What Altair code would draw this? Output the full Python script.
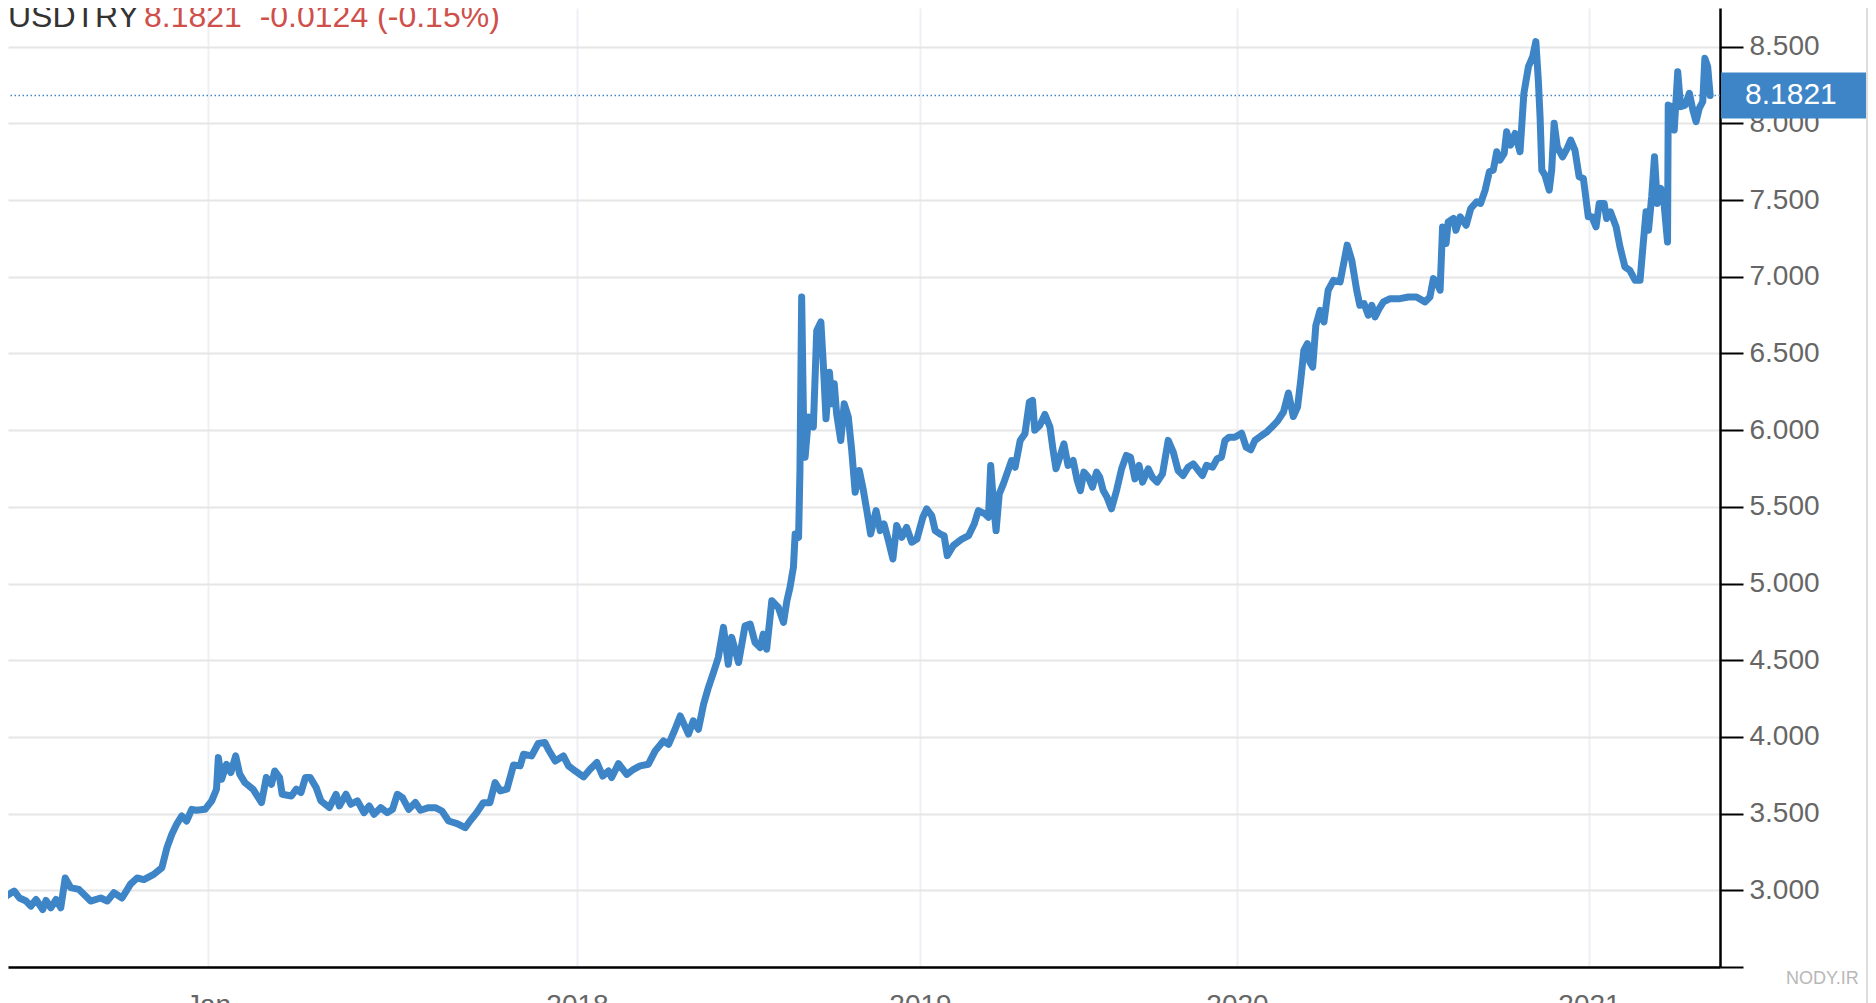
import altair as alt
import pandas as pd

# ---- data (decimal year, USDTRY close) ----
T = [2016.439, 2016.453, 2016.475, 2016.489, 2016.507, 2016.520, 2016.534, 2016.552, 2016.561, 2016.574,
     2016.588, 2016.601, 2016.613, 2016.628, 2016.650, 2016.682, 2016.709, 2016.727, 2016.745, 2016.767,
     2016.790, 2016.808, 2016.826, 2016.853, 2016.875, 2016.889, 2016.902, 2016.916, 2016.929, 2016.942,
     2016.956, 2016.969, 2016.992, 2017.010, 2017.023, 2017.028, 2017.037, 2017.050, 2017.062, 2017.075,
     2017.086, 2017.100, 2017.122, 2017.145, 2017.158, 2017.172, 2017.181, 2017.194, 2017.201, 2017.226,
     2017.239, 2017.252, 2017.264, 2017.277, 2017.293, 2017.306, 2017.329, 2017.347, 2017.356, 2017.374,
     2017.387, 2017.405, 2017.423, 2017.437, 2017.450, 2017.468, 2017.486, 2017.500, 2017.513, 2017.527,
     2017.544, 2017.562, 2017.576, 2017.598, 2017.616, 2017.634, 2017.652, 2017.675,
     2017.697, 2017.710, 2017.728, 2017.746, 2017.764, 2017.778, 2017.792, 2017.810, 2017.828, 2017.846,
     2017.855, 2017.877, 2017.895, 2017.913, 2017.922, 2017.941, 2017.963, 2017.977, 2017.995,
     2018.019, 2018.038, 2018.058, 2018.075, 2018.092, 2018.101, 2018.121, 2018.145, 2018.165, 2018.184,
     2018.208, 2018.228, 2018.252, 2018.267, 2018.286, 2018.301, 2018.325, 2018.339, 2018.354, 2018.369,
     2018.383, 2018.398, 2018.412, 2018.427, 2018.441, 2018.451, 2018.471, 2018.490, 2018.505, 2018.519,
     2018.534, 2018.543, 2018.553, 2018.568, 2018.587, 2018.602, 2018.612,
     2018.621, 2018.631, 2018.636, 2018.646, 2018.650, 2018.655, 2018.660, 2018.665, 2018.675, 2018.689,
     2018.699, 2018.711, 2018.718, 2018.726, 2018.736, 2018.743, 2018.750, 2018.757, 2018.769, 2018.779,
     2018.791, 2018.801, 2018.811, 2018.823, 2018.835, 2018.845, 2018.856, 2018.872, 2018.884, 2018.895,
     2018.908, 2018.921, 2018.932, 2018.947, 2018.961, 2018.976, 2018.991,
     2019.009, 2019.021, 2019.037, 2019.048, 2019.063, 2019.076, 2019.086, 2019.105, 2019.132, 2019.153,
     2019.171, 2019.184, 2019.205, 2019.216, 2019.223, 2019.232, 2019.240, 2019.250, 2019.263, 2019.276,
     2019.289, 2019.300, 2019.316, 2019.331, 2019.345,
     2019.355, 2019.362, 2019.378, 2019.394, 2019.410, 2019.420, 2019.429, 2019.441, 2019.454, 2019.467,
     2019.483, 2019.496, 2019.506, 2019.517, 2019.531, 2019.544, 2019.557, 2019.567, 2019.578, 2019.590,
     2019.604, 2019.620, 2019.636, 2019.651, 2019.664, 2019.678, 2019.691, 2019.702, 2019.720, 2019.733,
     2019.748, 2019.765, 2019.783, 2019.799, 2019.814, 2019.830, 2019.846, 2019.862, 2019.878, 2019.891,
     2019.904, 2019.923, 2019.937, 2019.951, 2019.962, 2019.975, 2019.993,
     2020.013, 2020.026, 2020.039, 2020.051, 2020.070, 2020.084, 2020.099, 2020.115, 2020.132, 2020.146,
     2020.160, 2020.172, 2020.181, 2020.190, 2020.200, 2020.207, 2020.215, 2020.224, 2020.236, 2020.247,
     2020.259, 2020.274, 2020.293,
     2020.313, 2020.326, 2020.340, 2020.349, 2020.361, 2020.373, 2020.383, 2020.392, 2020.404, 2020.416,
     2020.435, 2020.463, 2020.487, 2020.510, 2020.534, 2020.548, 2020.558, 2020.569, 2020.577, 2020.584,
     2020.594, 2020.600, 2020.615, 2020.622, 2020.634, 2020.651, 2020.664, 2020.681, 2020.692, 2020.705,
     2020.717, 2020.728, 2020.738, 2020.747, 2020.759, 2020.766, 2020.777, 2020.790, 2020.804, 2020.815,
     2020.828, 2020.840, 2020.849, 2020.856, 2020.861, 2020.866, 2020.875, 2020.887, 2020.894, 2020.901,
     2020.910, 2020.925, 2020.938, 2020.948, 2020.960, 2020.972, 2020.984, 2020.998,
     2021.008, 2021.020, 2021.029, 2021.043, 2021.050, 2021.061, 2021.077, 2021.088, 2021.102, 2021.116,
     2021.131, 2021.145, 2021.154, 2021.162, 2021.169, 2021.178, 2021.186, 2021.194, 2021.204, 2021.213,
     2021.223, 2021.225, 2021.235, 2021.242, 2021.252, 2021.260, 2021.273, 2021.285, 2021.295, 2021.304,
     2021.313, 2021.323, 2021.329, 2021.337, 2021.344]

V = [2.910, 2.963, 2.995, 2.950, 2.930, 2.897, 2.940, 2.875, 2.934, 2.886,
     2.940, 2.886, 3.080, 3.017, 3.006, 2.930, 2.950, 2.930, 2.984, 2.950,
     3.040, 3.080, 3.070, 3.104, 3.147, 3.280, 3.365, 3.435, 3.485, 3.452,
     3.528, 3.522, 3.528, 3.583, 3.659, 3.865, 3.724, 3.822, 3.768, 3.876,
     3.757, 3.702, 3.659, 3.572, 3.735, 3.691, 3.778, 3.735, 3.626, 3.615,
     3.659, 3.637, 3.735, 3.735, 3.670, 3.583, 3.539, 3.626, 3.550, 3.626,
     3.561, 3.583, 3.506, 3.550, 3.496, 3.539, 3.506, 3.528, 3.626, 3.604,
     3.528, 3.572, 3.522, 3.539, 3.539, 3.517, 3.452, 3.435,
     3.408, 3.452, 3.506, 3.571, 3.571, 3.702, 3.648, 3.659, 3.817, 3.811,
     3.887, 3.876, 3.957, 3.963, 3.920, 3.843, 3.876, 3.811, 3.778,
     3.739, 3.789, 3.833, 3.745, 3.778, 3.735, 3.826, 3.756, 3.789, 3.811,
     3.822, 3.909, 3.974, 3.952, 4.050, 4.137, 4.018, 4.105, 4.050, 4.213,
     4.322, 4.420, 4.518, 4.714, 4.474, 4.649, 4.485, 4.725, 4.736, 4.616,
     4.583, 4.670, 4.572, 4.888, 4.844, 4.746, 4.888,
     4.975, 5.106, 5.323, 5.301, 5.737, 6.868, 6.128, 5.824, 6.085, 6.020,
     6.650, 6.705, 6.433, 6.074, 6.378, 6.172, 6.302, 6.106, 5.932, 6.172,
     6.085, 5.867, 5.595, 5.737, 5.606, 5.475, 5.323, 5.475, 5.345, 5.388,
     5.280, 5.160, 5.378, 5.301, 5.366, 5.269, 5.290,
     5.432, 5.486, 5.443, 5.345, 5.323, 5.312, 5.182, 5.247, 5.290, 5.312,
     5.388, 5.475, 5.454, 5.432, 5.769, 5.519, 5.345, 5.584, 5.650, 5.726,
     5.802, 5.758, 5.932, 5.976, 6.183,
     6.194, 6.000, 6.031, 6.102, 6.020, 5.867, 5.748, 5.824, 5.911, 5.770,
     5.802, 5.672, 5.606, 5.726, 5.693, 5.628, 5.726, 5.693, 5.606, 5.563,
     5.487, 5.606, 5.748, 5.835, 5.824, 5.682, 5.770, 5.661, 5.748, 5.693,
     5.661, 5.715, 5.933, 5.857, 5.737, 5.704, 5.759, 5.780, 5.737, 5.704,
     5.770, 5.759, 5.813, 5.824, 5.933, 5.954, 5.954,
     5.980, 5.889, 5.872, 5.933, 5.965, 5.987, 6.020, 6.059, 6.118, 6.242,
     6.089, 6.150, 6.324, 6.520, 6.564, 6.444, 6.411, 6.683, 6.781, 6.705,
     6.912, 6.977, 6.966,
     7.206, 7.108, 6.912, 6.814, 6.825, 6.749, 6.814, 6.738, 6.792, 6.836,
     6.857, 6.857, 6.868, 6.868, 6.836, 6.868, 6.988, 6.955, 6.912, 7.325,
     7.217, 7.358, 7.380, 7.303, 7.391, 7.336, 7.445, 7.489, 7.478, 7.565,
     7.684, 7.695, 7.815, 7.760, 7.804, 7.945, 7.858, 7.934, 7.815, 8.196,
     8.370, 8.435, 8.533, 8.283, 8.043, 7.695, 7.662, 7.565, 7.695, 8.000,
     7.847, 7.782, 7.837, 7.891, 7.826, 7.652, 7.641, 7.391,
     7.391, 7.325, 7.478, 7.478, 7.380, 7.423, 7.325, 7.195, 7.064, 7.042,
     6.977, 6.977, 7.217, 7.423, 7.303, 7.521, 7.782, 7.478, 7.576, 7.478,
     7.227, 8.119, 8.109, 7.956, 8.337, 8.109, 8.119, 8.196, 8.087, 8.011,
     8.098, 8.141, 8.424, 8.370, 8.1821]

SYMBOL = "USDTRY"
LAST = 8.1821
CHANGE = "-0.0124"
CHANGE_PCT = "(-0.15%)"
YEAR_TICKS = [2017, 2018, 2019, 2020, 2021]
# piecewise time axis of the source chart (its years are unevenly spaced)
X_DOMAIN = [2016.458, 2017, 2018, 2019, 2020, 2021, 2021.372]
X_RANGE = [0, 200, 569, 912, 1229, 1581, 1712]
Y_TICKS = [2.5, 3.0, 3.5, 4.0, 4.5, 5.0, 5.5, 6.0, 6.5, 7.0, 7.5, 8.0, 8.5]

W, H = 1712, 959
BLUE = "#3d85c6"
FONT = "Liberation Sans"

df = pd.DataFrame({"t": T, "v": V})
last_df = pd.DataFrame({"v": [LAST], "s": [f"{LAST:.4f}"],
                        "head": [SYMBOL],
                        "quote": [f"{LAST:.4f}\u00a0\u00a0{CHANGE} {CHANGE_PCT}"]})

x_scale = alt.Scale(domain=X_DOMAIN, range=X_RANGE, nice=False, zero=False)
y_scale = alt.Scale(domain=[2.5, 8.752], nice=False, zero=False)

x_axis = alt.Axis(values=YEAR_TICKS, title=None, grid=True, gridColor="#edf0f4", gridWidth=2,
                  ticks=False, tickSize=0, domainColor="#000000", domainWidth=2.5,
                  labelExpr="datum.value == 2017 ? 'Jan' : format(datum.value, 'd')",
                  labelFont=FONT, labelFontSize=28, labelColor="#666666", labelPadding=24,
                  labelFlush=False, labelOverlap=False)
y_axis = alt.Axis(orient="right", values=Y_TICKS, title=None, grid=True, gridColor="#e6e6e6",
                  gridWidth=2, tickColor="#000000", tickSize=23, tickWidth=2,
                  domainColor="#000000", domainWidth=2.5,
                  labelExpr="datum.value < 2.9 ? '' : format(datum.value, '.3f')",
                  labelFont=FONT, labelFontSize=28, labelColor="#666666", labelPadding=6,
                  labelFlush=False, labelOverlap=False)

line = alt.Chart(df).mark_line(color=BLUE, strokeWidth=7, clip=True,
                               strokeJoin="round", strokeCap="round").encode(
    x=alt.X("t:Q", scale=x_scale, axis=x_axis),
    y=alt.Y("v:Q", scale=y_scale, axis=y_axis),
)

base_last = alt.Chart(last_df)

dotted = base_last.mark_rule(color="#4a86c0", strokeDash=[1.5, 2.5], strokeWidth=1.5).encode(
    y=alt.Y("v:Q", scale=y_scale)
)

box = base_last.mark_rule(color=BLUE, strokeWidth=46, strokeCap="butt").encode(
    y=alt.Y("v:Q", scale=y_scale), x=alt.value(1713), x2=alt.value(1858)
)

box_text = base_last.mark_text(color="white", fontSize=30, font=FONT, align="left",
                               baseline="middle").encode(
    y=alt.Y("v:Q", scale=y_scale), x=alt.value(1737), text="s:N"
)

head = base_last.mark_text(color="#333333", fontSize=32, font=FONT, align="left",
                           baseline="alphabetic").encode(
    x=alt.value(0), y=alt.value(19), text="head:N"
)
quote = base_last.mark_text(color="#cf4f4b", fontSize=32, font=FONT, align="left",
                            baseline="alphabetic").encode(
    x=alt.value(136), y=alt.value(19), text="quote:N"
)

mark_wm = base_last.mark_text(color="#b8b8b8", fontSize=18, font=FONT, align="left",
                              baseline="alphabetic", text="NODY.IR").encode(
    x=alt.value(1778), y=alt.value(976)
)

border = base_last.mark_rule(color="#dddddd", strokeWidth=2).encode(
    x=alt.value(1859), y=alt.value(-8), y2=alt.value(995)
)

chart = alt.layer(line, dotted, box, box_text, head, quote, mark_wm, border).properties(
    width=W, height=H,
    padding={"left": 0, "top": 0, "right": 148, "bottom": 36},
    autosize=alt.AutoSizeParams(type="none"),
    background="white",
).configure_view(stroke=None)

chart.save("out.html", embed_options={"renderer": "svg", "actions": False})
